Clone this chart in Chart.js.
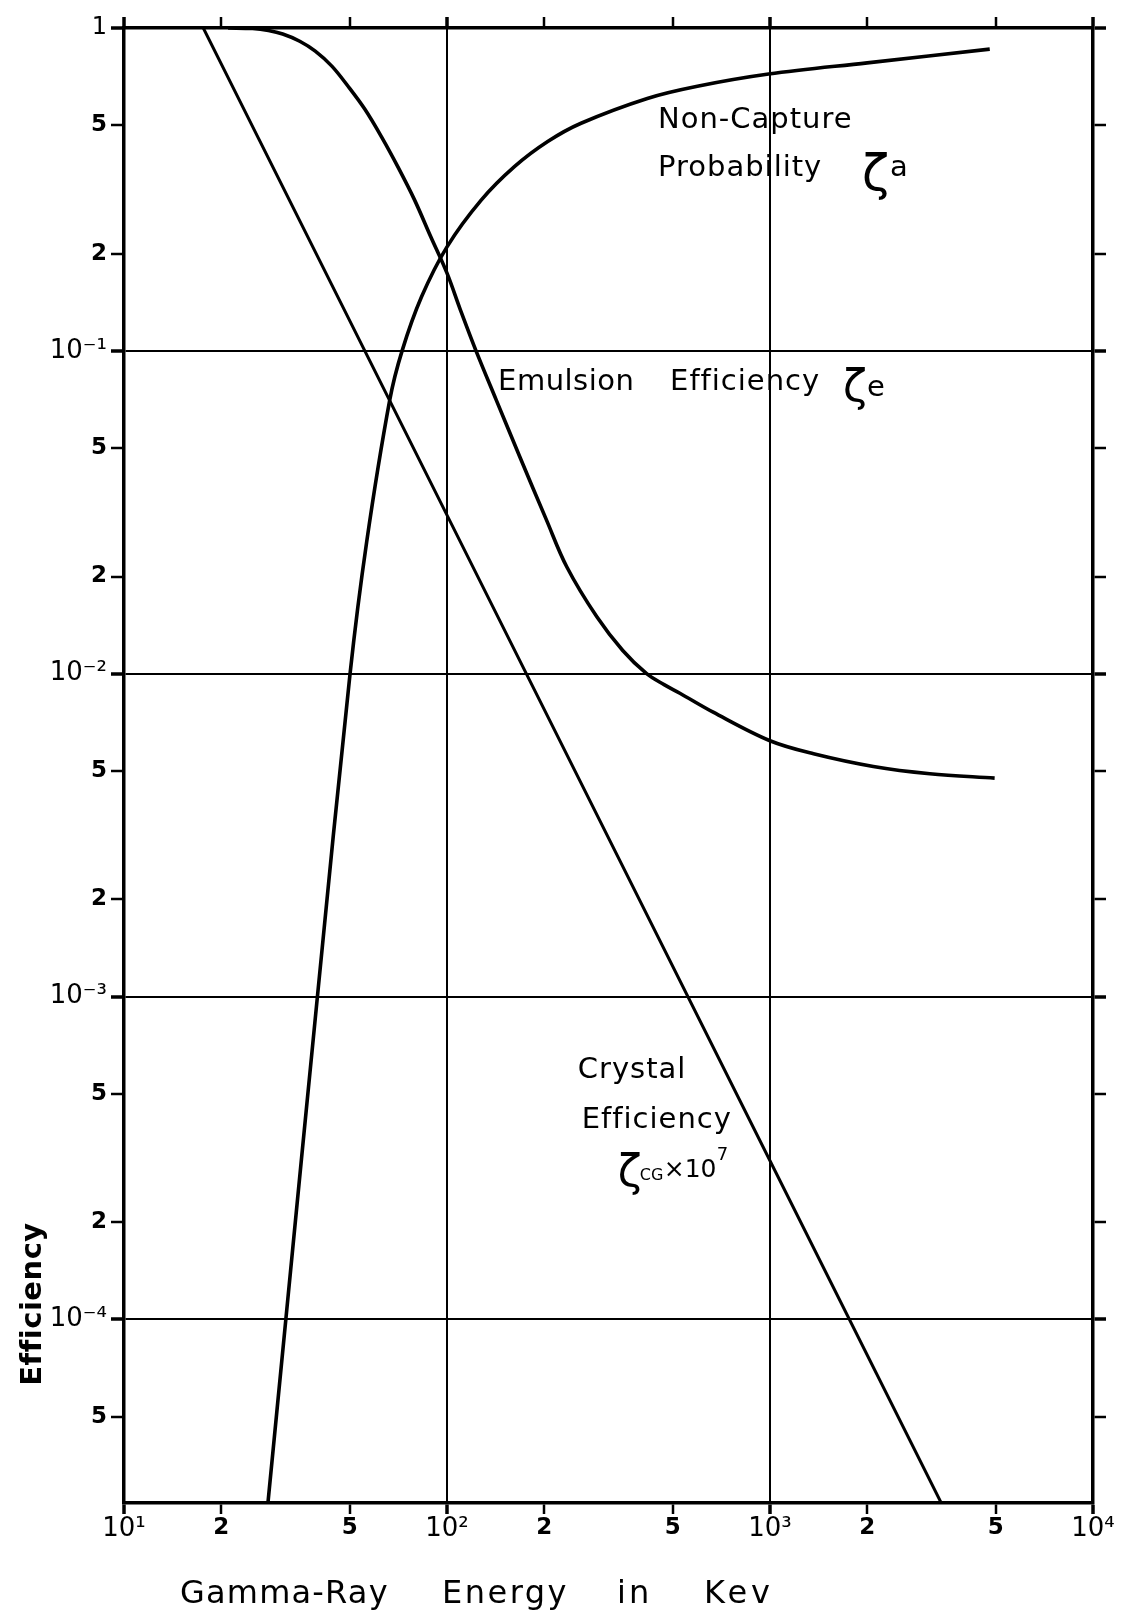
<!DOCTYPE html>
<html>
<head>
<meta charset="utf-8">
<style>
  html, body { margin: 0; padding: 0; background: #fff; }
</style>
<script src="https://cdn.jsdelivr.net/npm/chart.js@4.4.1/dist/chart.umd.min.js"></script>
</head>
<body>
<canvas id="effChart" width="1124" height="1612"></canvas>
<script>
// gamma-ray energy in keV, efficiencies are dimensionless
const crystalE = [17.6, 100, 1000, 3390];
const crystalEff = [1, 0.031, 3.1e-4, 2.7e-5];

const captureE = [27.9, 31.7, 39.7, 50.1, 56.4, 66.5, 72.6, 83.4, 100, 127.6, 161.7, 205, 260, 417, 596, 990, 2000, 4790];
const captureProb = [2.7e-5, 1e-4, 1e-3, 1e-2, 0.0256, 0.0705, 0.1, 0.147, 0.21, 0.293, 0.372, 0.445, 0.507, 0.605, 0.66, 0.72, 0.78, 0.86];

const emulsionE = [21, 25, 28, 31, 35, 39.1, 44, 49.4, 55.7, 62.7, 70.6, 79.4, 89, 100, 110, 123, 142, 168, 203, 235, 291, 350, 415, 470, 526, 667, 1000, 1364, 2089, 3125, 4960];
const emulsionEff = [1.0, 0.996, 0.982, 0.958, 0.91, 0.848, 0.762, 0.66, 0.56, 0.46, 0.37, 0.293, 0.226, 0.174, 0.134, 0.1, 0.0705, 0.047, 0.030, 0.0214, 0.015, 0.0118, 0.01, 0.00925, 0.0087, 0.0076, 0.0062, 0.00565, 0.00516, 0.0049, 0.00475];

const energyTicks = [10, 20, 50, 100, 200, 500, 1000, 2000, 5000, 10000];
const effTicks = [1, 0.5, 0.2, 0.1, 0.05, 0.02, 0.01, 0.005, 0.002, 0.001, 5e-4, 2e-4, 1e-4, 5e-5];
const energyMin = 10, energyMax = 10000;
const effMin = 2.7e-5, effMax = 1;

const FONT = 'DejaVu Sans';
const SUP = { '-': '⁻', '0': '⁰', '1': '¹', '2': '²', '3': '³', '4': '⁴' };

const isDecade = v => Math.abs(Math.log10(v) - Math.round(Math.log10(v))) < 1e-6;

function tickLabel(v) {
  if (isDecade(v)) {
    const p = Math.round(Math.log10(v));
    if (p === 0) return '1';
    return '10' + String(p).split('').map(c => SUP[c]).join('');
  }
  return String(Math.round(v / Math.pow(10, Math.floor(Math.log10(v) + 1e-9))));
}

function tickFont(ctx) {
  const v = ctx.tick.value;
  if (v === 1) return { family: FONT, size: 24 };
  if (isDecade(v)) return { family: FONT, size: 26 };
  return { family: FONT, size: 23, weight: 'bold' };
}

const fixTicks = values => scale => {
  scale.ticks = values.map(v => ({ value: v, major: isDecade(v) }));
};

// only the inner decades get a line across the plot
const gridColor = (lo, hi) => ctx =>
  (isDecade(ctx.tick.value) && ctx.tick.value > lo * 1.001 && ctx.tick.value < hi * 0.999) ? '#000' : 'rgba(0,0,0,0)';

const toPoints = (xs, ys) => xs.map((x, i) => ({ x: x, y: ys[i] }));

function axisOpts(kind, pos, size, tickLen, showLabels) {
  const horiz = kind === 'x';
  return {
    type: 'logarithmic',
    position: pos,
    min: horiz ? energyMin : effMin,
    max: horiz ? energyMax : effMax,
    afterBuildTicks: fixTicks(horiz ? energyTicks : effTicks),
    afterFit: s => { if (horiz) s.height = size; else s.width = size; },
    border: { display: true, color: '#000', width: 3.5 },
    grid: {
      drawOnChartArea: showLabels,
      color: horiz ? gridColor(energyMin, energyMax) : gridColor(effMin, effMax),
      lineWidth: 2,
      drawTicks: true,
      tickLength: tickLen,
      tickColor: '#000',
      tickWidth: ctx => isDecade(ctx.tick.value) ? 3.5 : 2.5
    },
    ticks: {
      display: showLabels,
      autoSkip: false,
      maxRotation: 0,
      padding: horiz ? 0 : 4,
      color: '#000',
      font: tickFont,
      callback: v => tickLabel(v)
    }
  };
}

// curve captions and axis titles
const captionPlugin = {
  id: 'captions',
  afterDraw(chart) {
    const { ctx, scales } = chart;
    const px = e => scales.x.getPixelForValue(e);
    const py = v => scales.y.getPixelForValue(v);
    const put = (txt, x, y, size, weight, spacing) => {
      ctx.font = (weight || 'normal') + ' ' + size + 'px "' + FONT + '"';
      ctx.letterSpacing = (spacing || 0) + 'px';
      ctx.fillText(txt, x, y);
    };
    ctx.save();
    ctx.fillStyle = '#000';
    ctx.textAlign = 'left';
    ctx.textBaseline = 'alphabetic';

    // non-capture probability
    let ax = px(450), ay = py(0.49);
    put('Non-Capture', ax, ay, 29, 'normal', 1);
    put('Probability', ax, ay + 48, 29, 'normal', 1);
    put('ζ', ax + 204, ay + 62, 50);
    put('a', ax + 232, ay + 48, 29);

    // emulsion efficiency
    ax = px(143.9); ay = py(0.0756);
    put('Emulsion', ax, ay, 29, 'normal', 0.5);
    put('Efficiency', ax + 172, ay, 29, 'normal', 1);
    put('ζ', ax + 345, ay + 11, 44);
    put('e', ax + 369, ay + 6, 29);

    // crystal efficiency
    ax = px(254); ay = py(5.58e-4);
    put('Crystal', ax, ay, 29, 'normal', 1);
    put('Efficiency', ax + 4, ay + 50, 29, 'normal', 1);
    put('ζ', ax + 40, ay + 108, 44);
    put('CG', ax + 62, ay + 102, 16);
    put('×10', ax + 86, ay + 99, 25);
    put('7', ax + 139, ay + 82, 18);

    // axis titles
    const b = chart.chartArea.bottom;
    put('Gamma-Ray', 180, b + 100, 32, 'normal', 1.2);
    put('Energy', 442, b + 100, 32, 'normal', 2.5);
    put('in', 617, b + 100, 32, 'normal', 3);
    put('Kev', 704, b + 100, 32, 'normal', 4);

    ctx.translate(41, 1304);
    ctx.rotate(-Math.PI / 2);
    ctx.textAlign = 'center';
    put('Efficiency', 0, 0, 29, 'bold', 0.5);
    ctx.restore();
  }
};

new Chart(document.getElementById('effChart'), {
  type: 'line',
  data: {
    datasets: [
      {
        label: 'Crystal Efficiency',
        data: toPoints(crystalE, crystalEff),
        borderColor: '#000',
        borderWidth: 3,
        pointRadius: 0,
        tension: 0,
        fill: false
      },
      {
        label: 'Non-Capture Probability',
        data: toPoints(captureE, captureProb),
        borderColor: '#000',
        borderWidth: 3.6,
        pointRadius: 0,
        tension: 0.35,
        fill: false
      },
      {
        label: 'Emulsion Efficiency',
        data: toPoints(emulsionE, emulsionEff),
        borderColor: '#000',
        borderWidth: 3.6,
        pointRadius: 0,
        tension: 0.35,
        fill: false
      }
    ]
  },
  options: {
    responsive: false,
    animation: false,
    devicePixelRatio: 1,
    layout: { padding: 0 },
    plugins: { legend: { display: false }, tooltip: { enabled: false } },
    scales: {
      x: axisOpts('x', 'bottom', 109, 11, true),
      y: axisOpts('y', 'left', 124, 13, true),
      x2: axisOpts('x', 'top', 28, 11, false),
      y2: axisOpts('y', 'right', 31, 13, false)
    }
  },
  plugins: [captionPlugin]
});
</script>
</body>
</html>
